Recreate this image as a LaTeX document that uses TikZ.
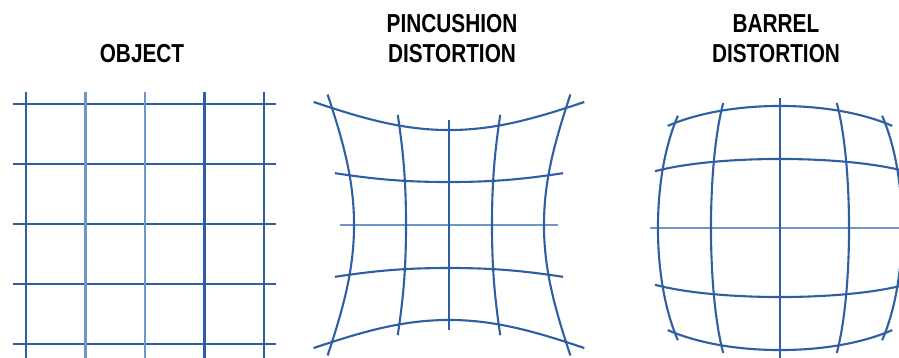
\documentclass[tikz,border=0pt]{standalone}
\usepackage{fontspec}
\newfontfamily\titlefont{Liberation Sans}[FakeStretch=0.8]
\definecolor{gridblue}{HTML}{2E5FA3}
\definecolor{gridlight}{HTML}{6E98CA}
\tikzset{
  gl/.style={draw=gridblue, line width=2.1pt},
  gllight/.style={draw=gridlight, line width=2.8pt},
  title/.style={anchor=base, inner sep=0pt, font=\titlefont\bfseries\fontsize{26}{30}\selectfont},
  declare function={pg(\r)=42.2+0.607*\r+0.1786*\r*\r; bg(\r)=72-3.054*\r+0.0774*\r*\r;}
}
\begin{document}
\begin{tikzpicture}[x=1pt,y=-1pt]
\useasboundingbox (0,0) rectangle (899,357);
\clip (0,0) rectangle (899,357);
% titles
\node[title] (tobj) at (142,62) {OBJECT};
\node[title] (tpin1) at (452,32) {PINCUSHION};
\node[title] (tpin2) at (452,62) {DISTORTION};
\node[title] (tbar1) at (776,32) {BARREL};
\node[title] (tbar2) at (776,62) {DISTORTION};
% object grid
\foreach \i in {-2,...,2}{
  \draw[gl] (13,{224+60*\i}) -- (276,{224+60*\i});
}
\foreach \i in {-2,2,1}{
  \draw[gl] ({145+59.5*\i},92) -- ({145+59.5*\i},360);
}
\foreach \i in {-1,0}{
  \draw[gllight] ({145+59.5*\i},92) -- ({145+59.5*\i},360);
}
% pincushion grid
\foreach \v in {-2,-1,1,2}{
  \draw[gl] plot[domain=-2.2:2.2,samples=45,smooth]
    ({449+\x*pg((\x)*(\x)+(\v)*(\v))},{225+\v*pg((\x)*(\x)+(\v)*(\v))});
}
\draw[gllight] plot[domain=-2.2:2.2,samples=45,smooth]
    ({449+\x*pg((\x)*(\x))},{225});
\foreach \v in {-2,...,2}{
  \draw[gl] plot[domain=-2.15:2.15,samples=45,smooth]
    ({449+\v*pg((\x)*(\x)+(\v)*(\v))},{225+\x*pg((\x)*(\x)+(\v)*(\v))});
}
% barrel grid
\foreach \v in {-2,-1,1,2}{
  \draw[gl] plot[domain=-2.2:2.2,samples=45,smooth]
    ({780+\x*bg((\x)*(\x)+(\v)*(\v))},{228+\v*bg((\x)*(\x)+(\v)*(\v))});
}
\draw[gllight] plot[domain=-2.2:2.2,samples=45,smooth]
    ({780+\x*bg((\x)*(\x))},{228});
\foreach \v in {-2,...,2}{
  \draw[gl] plot[domain=-2.2:2.2,samples=45,smooth]
    ({780+\v*bg((\x)*(\x)+(\v)*(\v))},{228+\x*bg((\x)*(\x)+(\v)*(\v))});
}
\end{tikzpicture}
\end{document}
